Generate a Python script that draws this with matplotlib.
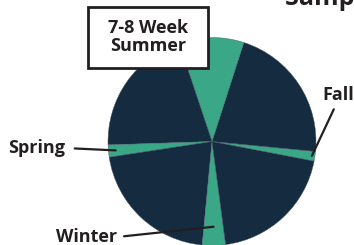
import matplotlib
matplotlib.use("Agg")
import matplotlib.pyplot as plt
from matplotlib.patches import Rectangle
import numpy as np

# session share of the year (percent); dark slices are the gaps between sessions
segments = ["Fall", "gap 1", "7-8 Week Summer", "gap 2", "Spring", "gap 3", "Winter", "gap 4"]
shares = [1.5, 21.6, 10.1, 20.4, 1.9, 21.1, 3.6, 19.9]
is_session = [True, False, True, False, True, False, True, False]

navy = "#152b40"
green = "#3aa886"
ink = "#231f20"
plt.rcParams["font.family"] = ["Open Sans", "DejaVu Sans"]

W, H = 354, 245
fig = plt.figure(figsize=(W / 100, H / 100), dpi=100)
ax = fig.add_axes([0, 0, 1, 1])

cx, cy, R = 212, H - 141.5, 104
colors = [green if s else navy for s in is_session]
wedges, _ = ax.pie(shares, colors=colors, startangle=-10.9, counterclock=True,
                   center=(cx, cy), radius=R,
                   wedgeprops=dict(linewidth=0.3, edgecolor="#4a5a6a"))
ax.set_xlim(0, W)
ax.set_ylim(0, H)
ax.set_aspect("equal")
ax.axis("off")


def wedge_point(name, frac):
    w = wedges[segments.index(name)]
    ang = np.deg2rad((w.theta1 + w.theta2) / 2)
    return cx + frac * R * np.cos(ang), cy + frac * R * np.sin(ang)


lab = dict(fontsize=13, fontweight="bold", color=ink)
line = dict(arrowstyle="-", color=ink, lw=1.6, shrinkA=2, shrinkB=0)

ax.annotate("Fall", xy=wedge_point("Fall", 0.97), xytext=(322, H - 95),
            ha="left", va="center", arrowprops=dict(line, relpos=(0.45, 0)), **lab)
ax.annotate("Spring", xy=wedge_point("Spring", 0.93), xytext=(8, H - 148),
            ha="left", va="center", arrowprops=dict(line, relpos=(1, 0.5), shrinkA=5), **lab)
ax.annotate("Winter", xy=wedge_point("Winter", 0.82), xytext=(56, H - 237),
            ha="left", va="center", arrowprops=dict(line, relpos=(1, 0.5), shrinkA=3), **lab)

# summer label box
ax.add_patch(Rectangle((88, H - 68), 120, 61, facecolor="white", edgecolor=ink,
                       lw=2, zorder=5))
ax.text(148, H - 37.5, "7-8 Week\nSummer", ha="center", va="center",
        linespacing=1.0, zorder=6, **lab)

# cut-off title at the top right
ax.text(285, H - 5, "Sample Schedule", ha="left", va="baseline",
        fontsize=18, fontweight="bold", color=ink)

fig.savefig("out.png", dpi=100)
